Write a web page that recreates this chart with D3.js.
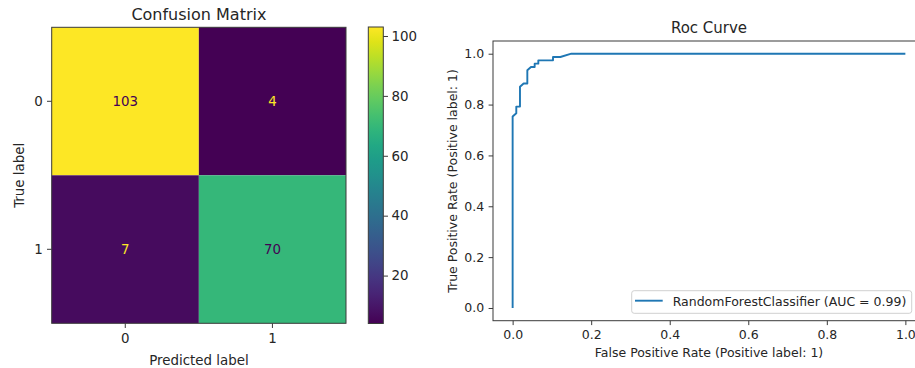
<!DOCTYPE html>
<html><head><meta charset="utf-8">
<script src="https://cdn.jsdelivr.net/npm/d3@7"></script>
<style>
html,body{margin:0;padding:0;background:#fff;}
svg{display:block;font-family:"DejaVu Sans",sans-serif;}
</style></head>
<body><svg id="chart" width="915" height="368"></svg>
<script>
// ---- data ----
const classLabels = ["0", "1"];
const cmRow0 = [103, 4];
const cmRow1 = [7, 70];
const colorbarTicks = [20, 40, 60, 80, 100];

const rocFpr = [0, 0, 0.0093, 0.0093, 0.0187, 0.0187, 0.028, 0.0374, 0.0374, 0.0467, 0.0561, 0.0561, 0.0654, 0.0654, 0.1028, 0.1028, 0.1215, 0.1495, 1.0];
const rocTpr = [0, 0.753, 0.766, 0.792, 0.792, 0.870, 0.883, 0.883, 0.935, 0.948, 0.948, 0.961, 0.961, 0.974, 0.974, 0.987, 0.987, 1.0, 1.0];
const rocTicks = [0, 0.2, 0.4, 0.6, 0.8, 1.0];
const legendLabel = "RandomForestClassifier (AUC = 0.99)";

const svg = d3.select("#chart");
const textColor = "#262626";
const spineColor = "#3a3a3a";

// ---------- Confusion matrix ----------
const cm = [cmRow0, cmRow1];
const cells = [];
cm.forEach((row, i) => row.forEach((v, j) => cells.push({ r: classLabels[i], c: classLabels[j], v })));
const vmin = d3.min(cells, d => d.v), vmax = d3.max(cells, d => d.v);
const color = d3.scaleSequential(d3.interpolateViridis).domain([vmin, vmax]);

const cmX = d3.scaleBand().domain(classLabels).range([51.7, 346]);
const cmY = d3.scaleBand().domain(classLabels).range([27.3, 323.3]);
const gcm = svg.append("g");

gcm.selectAll("rect.cell").data(cells).join("rect")
  .attr("class", "cell")
  .attr("x", d => cmX(d.c)).attr("y", d => cmY(d.r))
  .attr("width", cmX.bandwidth()).attr("height", cmY.bandwidth())
  .attr("fill", d => color(d.v));

const thresh = (vmin + vmax) / 2;
gcm.selectAll("text.val").data(cells).join("text")
  .attr("class", "val")
  .attr("x", d => cmX(d.c) + cmX.bandwidth() / 2)
  .attr("y", d => cmY(d.r) + cmY.bandwidth() / 2)
  .attr("dy", "0.36em")
  .attr("text-anchor", "middle")
  .attr("font-size", "13.4px")
  .attr("fill", d => d.v < thresh ? color(vmax) : color(vmin))
  .text(d => d.v);

gcm.append("rect")
  .attr("x", 51.7).attr("y", 27.3).attr("width", 346 - 51.7).attr("height", 323.3 - 27.3)
  .attr("fill", "none").attr("stroke", spineColor).attr("stroke-width", 1);

function styleAxis(g, fs) {
  g.select(".domain").remove();
  g.selectAll(".tick line").attr("stroke", spineColor).attr("stroke-width", 1);
  g.selectAll(".tick text").attr("fill", textColor).attr("font-size", fs)
    .attr("font-family", "DejaVu Sans");
}

const cmAxX = gcm.append("g").attr("transform", "translate(0,323.3)")
  .call(d3.axisBottom(cmX).tickSize(4.7).tickPadding(5));
styleAxis(cmAxX, "13.4px");
const cmAxY = gcm.append("g").attr("transform", "translate(51.7,0)")
  .call(d3.axisLeft(cmY).tickSize(4.7).tickPadding(4.3));
styleAxis(cmAxY, "13.4px");

gcm.append("text").attr("x", 198.9).attr("y", 20).attr("text-anchor", "middle")
  .attr("font-size", "16px").attr("fill", textColor).text("Confusion Matrix");
gcm.append("text").attr("x", 198.9).attr("y", 364.5).attr("text-anchor", "middle")
  .attr("font-size", "13.4px").attr("fill", textColor).text("Predicted label");
gcm.append("text").attr("transform", "translate(24,175.3) rotate(-90)").attr("text-anchor", "middle")
  .attr("font-size", "13.4px").attr("fill", textColor).text("True label");

// colorbar
const cbX0 = 368.3, cbX1 = 383.3, cbTop = 27, cbBot = 323.5;
const cbScale = d3.scaleLinear().domain([vmin, vmax]).range([cbBot, cbTop]);
const defs = svg.append("defs");
const grad = defs.append("linearGradient").attr("id", "cbgrad")
  .attr("x1", 0).attr("y1", 1).attr("x2", 0).attr("y2", 0);
d3.range(0, 1.0001, 0.05).forEach(t => grad.append("stop")
  .attr("offset", t).attr("stop-color", d3.interpolateViridis(t)));
svg.append("rect").attr("x", cbX0).attr("y", cbTop).attr("width", cbX1 - cbX0).attr("height", cbBot - cbTop)
  .attr("fill", "url(#cbgrad)").attr("stroke", spineColor).attr("stroke-width", 1);
const cbAx = svg.append("g").attr("transform", `translate(${cbX1},0)`)
  .call(d3.axisRight(cbScale).tickValues(colorbarTicks).tickSize(4.7).tickPadding(3.5));
styleAxis(cbAx, "13.4px");

// ---------- ROC curve ----------
const rx = d3.scaleLinear().domain([-0.05, 1.05]).range([493, 925]);
const ry = d3.scaleLinear().domain([-0.05, 1.05]).range([320.7, 41]);
const groc = svg.append("g");

groc.append("path")
  .datum(rocFpr.map((f, i) => [f, rocTpr[i]]))
  .attr("d", d3.line().x(d => rx(d[0])).y(d => ry(d[1])))
  .attr("fill", "none").attr("stroke", "#1f77b4").attr("stroke-width", 1.9)
  .attr("stroke-linejoin", "round");

groc.append("rect").attr("x", 493).attr("y", 41).attr("width", 925 - 493).attr("height", 320.7 - 41)
  .attr("fill", "none").attr("stroke", spineColor).attr("stroke-width", 1);

const rAxX = groc.append("g").attr("transform", "translate(0,320.7)")
  .call(d3.axisBottom(rx).tickValues(rocTicks).tickFormat(d3.format(".1f")).tickSize(4.4).tickPadding(5.5));
styleAxis(rAxX, "12.5px");
const rAxY = groc.append("g").attr("transform", "translate(493,0)")
  .call(d3.axisLeft(ry).tickValues(rocTicks).tickFormat(d3.format(".1f")).tickSize(4.4).tickPadding(4.4));
styleAxis(rAxY, "12.5px");

groc.append("text").attr("x", 709).attr("y", 33).attr("text-anchor", "middle")
  .attr("font-size", "15px").attr("fill", textColor).text("Roc Curve");
groc.append("text").attr("x", 709).attr("y", 357.3).attr("text-anchor", "middle")
  .attr("font-size", "12.5px").attr("fill", textColor).text("False Positive Rate (Positive label: 1)");
groc.append("text").attr("transform", "translate(456.5,181) rotate(-90)").attr("text-anchor", "middle")
  .attr("font-size", "12.5px").attr("fill", textColor).text("True Positive Rate (Positive label: 1)");

// legend
const lg = groc.append("g");
lg.append("rect").attr("x", 631.7).attr("y", 290.7).attr("width", 280).attr("height", 22.6)
  .attr("rx", 2.5).attr("fill", "rgba(255,255,255,0.8)").attr("stroke", "#d0d0d0").attr("stroke-width", 1);
lg.append("line").attr("x1", 635).attr("x2", 662.7).attr("y1", 300.7).attr("y2", 300.7)
  .attr("stroke", "#1f77b4").attr("stroke-width", 1.9);
lg.append("text").attr("x", 672.7).attr("y", 306.3).attr("font-size", "12.5px")
  .attr("fill", textColor).text(legendLabel);
</script></body></html>
